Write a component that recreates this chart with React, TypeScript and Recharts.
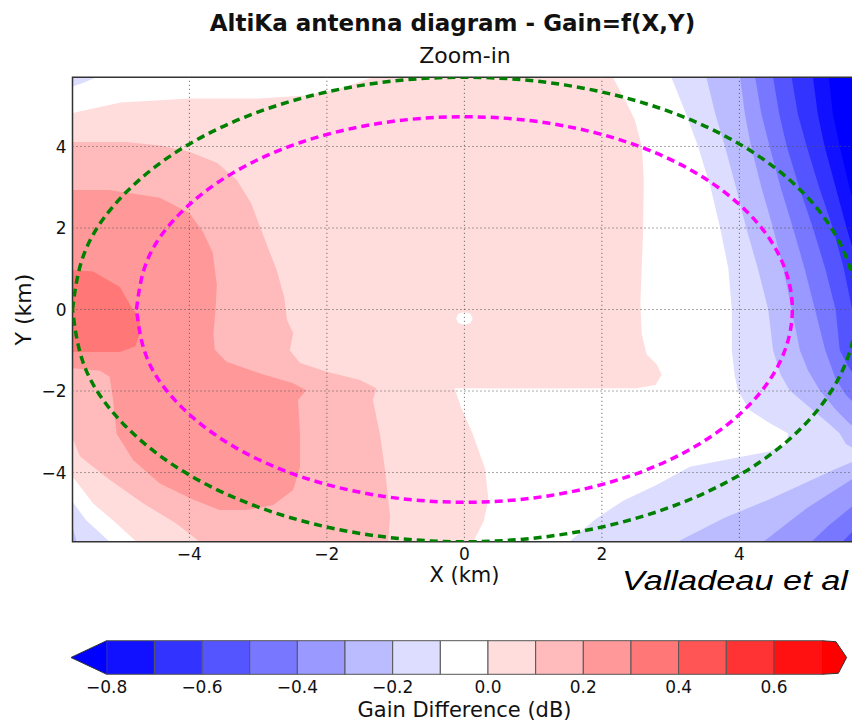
import {
  ComposedChart, Scatter, XAxis, YAxis, ReferenceLine, ReferenceArea,
} from 'recharts'

type Pair = [number, number]

// colour levels of the contour plot (dB) and the bwr colours of each band
const levels = [-0.8, -0.7, -0.6, -0.5, -0.4, -0.3, -0.2, -0.1, 0.0, 0.1, 0.2, 0.3, 0.4, 0.5, 0.6, 0.7]
const levelColors = [
  '#1111ff', '#3333ff', '#5555ff', '#7777ff', '#9999ff', '#bbbbff', '#ddddff',
  '#ffffff', '#ffdddd', '#ffbbbb', '#ff9999', '#ff7777', '#ff5555', '#ff3333', '#ff1111',
]
const underColor = '#0000ff'
const overColor = '#ff0000'
const cbarTicks = [-0.8, -0.6, -0.4, -0.2, 0, 0.2, 0.4, 0.6]
const axisTicks = [-4, -2, 0, 2, 4]

// contour regions, X/Y in km
const pink0: Pair[] = [
  [-5.7, 4.82], [-5.0, 5.08], [-4.0, 5.18], [-3.0, 5.18], [-2.3, 5.25], [-1.8, 5.42], [-1.33, 5.7],
  [2.16, 5.7], [2.36, 5.07], [2.48, 4.65], [2.58, 4.0], [2.61, 3.2], [2.6, 1.94], [2.56, 0.15],
  [2.58, -0.6], [2.65, -1.1], [2.8, -1.35], [2.87, -1.6], [2.78, -1.85], [2.5, -1.93],
  [1.0, -1.94], [-0.14, -1.93], [-0.05, -2.4], [0.12, -3.04], [0.3, -3.9], [0.35, -4.67],
  [0.28, -5.2], [0.13, -5.7], [-4.77, -5.7], [-5.06, -5.25], [-5.4, -4.76], [-5.7, -4.1],
]
const pink1: Pair[] = [
  [-5.7, 4.11], [-4.91, 4.11], [-4.4, 4.02], [-4.0, 3.87], [-3.6, 3.6], [-3.31, 3.18],
  [-3.1, 2.6], [-2.97, 2.02], [-2.83, 1.4], [-2.73, 0.97], [-2.62, 0.3], [-2.58, -0.26],
  [-2.49, -0.58], [-2.54, -1.0], [-2.39, -1.31], [-2.0, -1.53], [-1.52, -1.73], [-1.28, -1.93],
  [-1.33, -2.22], [-1.23, -3.04], [-1.16, -3.86], [-1.08, -5.08], [-1.11, -5.7],
  [-3.85, -5.7], [-4.19, -5.25], [-4.67, -4.76], [-5.16, -4.18], [-5.59, -3.61], [-5.7, -3.16],
]
const pink2: Pair[] = [
  [-5.7, 2.93], [-5.16, 2.93], [-4.43, 2.74], [-4.0, 2.37], [-3.8, 1.9], [-3.66, 1.39],
  [-3.6, 0.6], [-3.62, -0.01], [-3.65, -0.58], [-3.63, -0.99], [-3.46, -1.28], [-2.97, -1.57],
  [-2.49, -1.81], [-2.3, -1.98], [-2.42, -2.22], [-2.39, -3.04], [-2.39, -3.86], [-2.49, -4.43],
  [-2.78, -4.8], [-3.17, -4.92], [-3.56, -4.92], [-3.94, -4.67], [-4.43, -4.27], [-4.82, -3.69],
  [-5.06, -3.04], [-5.11, -2.22], [-5.16, -1.65], [-5.3, -1.5], [-5.7, -1.44],
]
const pink3: Pair[] = [
  [-5.7, 0.97], [-5.4, 0.93], [-5.01, 0.55], [-4.82, -0.01], [-4.72, -0.18], [-4.72, -0.58],
  [-4.79, -0.91], [-5.01, -1.04], [-5.7, -1.04],
]
const centreDot: Pair[] = [
  [0.12, -0.22], [0.088, -0.107], [0, -0.06], [-0.088, -0.107], [-0.12, -0.22],
  [-0.088, -0.333], [0, -0.38], [0.088, -0.333],
]
const blue1: Pair[] = [
  [3.01, 5.7], [3.2, 4.9], [3.4, 4.0], [3.58, 3.0], [3.72, 2.0], [3.84, 1.0], [3.89, 0],
  [3.89, -1.0], [3.93, -1.6], [3.98, -2.0], [4.15, -2.47], [4.45, -2.8], [4.71, -3.04],
  [4.68, -3.3], [4.45, -3.48], [4.01, -3.62], [3.28, -3.86], [2.8, -4.3], [2.31, -4.69],
  [1.9, -5.15], [1.53, -5.7], [5.7, -5.7], [5.7, 5.7],
]
const blue2Top: Pair[] = [
  [3.52, 5.7], [3.65, 4.8], [3.79, 4.0], [3.95, 3.0], [4.1, 2.0], [4.27, 1.0], [4.42, 0],
  [4.49, -1.0], [4.6, -1.6], [4.73, -1.98], [5.07, -2.47], [5.3, -2.8], [5.46, -3.04],
  [5.55, -3.3], [5.7, -3.45], [5.7, 5.7],
]
const blue2Bottom: Pair[] = [
  [5.7, -3.7], [5.35, -3.95], [4.9, -4.3], [4.45, -4.65], [3.8, -5.1], [3.1, -5.7], [5.7, -5.7],
]
const blue3Top: Pair[] = [
  [4.01, 5.7], [4.08, 4.8], [4.17, 4.0], [4.32, 3.0], [4.49, 2.0], [4.64, 1.0], [4.76, 0],
  [4.88, -1.0], [5.0, -1.5], [5.17, -1.98], [5.41, -2.47], [5.6, -2.8], [5.7, -2.9], [5.7, 5.7],
]
const blue3Bottom: Pair[] = [[5.7, -4.1], [5.0, -4.85], [4.35, -5.7], [5.7, -5.7]]
const blue4Top: Pair[] = [
  [4.23, 5.7], [4.32, 4.8], [4.44, 4.0], [4.6, 3.0], [4.78, 2.0], [4.95, 1.0], [5.1, 0],
  [5.25, -1.0], [5.4, -1.7], [5.55, -2.1], [5.7, -2.35], [5.7, 5.7],
]
const blue4Bottom: Pair[] = [[5.7, -4.75], [5.3, -5.3], [5.05, -5.7], [5.7, -5.7]]
const blue5Top: Pair[] = [
  [4.49, 5.7], [4.58, 4.8], [4.69, 4.0], [4.87, 3.0], [5.07, 2.0], [5.25, 1.0], [5.4, 0],
  [5.46, -1.0], [5.6, -1.45], [5.7, -1.65], [5.7, 5.7],
]
const blue5Bottom: Pair[] = [[5.7, -5.35], [5.5, -5.7], [5.7, -5.7]]
const blue6: Pair[] = [
  [4.76, 5.7], [4.85, 4.8], [4.98, 4.0], [5.16, 3.0], [5.36, 2.0], [5.52, 1.0], [5.64, 0],
  [5.7, -0.4], [5.7, 5.7],
]
const blue7: Pair[] = [
  [5.07, 5.7], [5.14, 4.8], [5.24, 4.0], [5.4, 3.0], [5.56, 2.0], [5.7, 1.2], [5.7, 5.7],
]
const blue8: Pair[] = [[5.3, 5.7], [5.36, 4.8], [5.46, 4.0], [5.6, 3.0], [5.7, 2.4], [5.7, 5.7]]
const cornerTopLeft: Pair[] = [[-5.7, 5.7], [-5.35, 5.7], [-5.55, 5.56], [-5.7, 5.47]]
const cornerBottomLeft1: Pair[] = [[-5.7, -4.72], [-5.5, -5.17], [-5.16, -5.7], [-5.7, -5.7]]
const cornerBottomLeft2: Pair[] = [[-5.7, -5.33], [-5.64, -5.7], [-5.7, -5.7]]

// band index into levelColors (-1 = below -0.8)
const regions: { pts: Pair[]; band: number }[] = [
  { pts: blue1, band: 6 }, { pts: cornerTopLeft, band: 6 }, { pts: cornerBottomLeft1, band: 6 },
  { pts: cornerBottomLeft2, band: 5 },
  { pts: blue2Top, band: 5 }, { pts: blue2Bottom, band: 5 },
  { pts: blue3Top, band: 4 }, { pts: blue3Bottom, band: 4 },
  { pts: blue4Top, band: 3 }, { pts: blue4Bottom, band: 3 },
  { pts: blue5Top, band: 2 }, { pts: blue5Bottom, band: 2 },
  { pts: blue6, band: 1 }, { pts: blue7, band: 0 }, { pts: blue8, band: -1 },
  { pts: pink0, band: 8 }, { pts: pink1, band: 9 }, { pts: pink2, band: 10 }, { pts: pink3, band: 11 },
  { pts: centreDot, band: 7 },
]

// footprint circles (km)
const outerCircle: Pair[] = [
  [-5.7, 0], [-5.506, 1.475], [-4.936, 2.85], [-4.031, 4.031], [-2.85, 4.936], [-1.475, 5.506],
  [0, 5.7], [1.475, 5.506], [2.85, 4.936], [4.031, 4.031], [4.936, 2.85], [5.506, 1.475],
  [5.7, 0], [5.506, -1.475], [4.936, -2.85], [4.031, -4.031], [2.85, -4.936], [1.475, -5.506],
  [0, -5.7], [-1.475, -5.506], [-2.85, -4.936], [-4.031, -4.031], [-4.936, -2.85], [-5.506, -1.475],
  [-5.7, 0],
]
const innerCircle: Pair[] = [
  [-4.77, 0], [-4.607, 1.229], [-4.131, 2.365], [-3.373, 3.345], [-2.385, 4.097], [-1.235, 4.569],
  [0, 4.73], [1.235, 4.569], [2.385, 4.097], [3.373, 3.345], [4.131, 2.365], [4.607, 1.229],
  [4.77, 0], [4.607, -1.229], [4.131, -2.365], [3.373, -3.345], [2.385, -4.097], [1.235, -4.569],
  [0, -4.73], [-1.235, -4.569], [-2.385, -4.097], [-3.373, -3.345], [-4.131, -2.365], [-4.607, -1.229],
  [-4.77, 0],
]

// extend arrows of the colour bar
const leftArrow: Pair[] = [[-0.8, 0], [-0.875, 0.5], [-0.8, 1]]
const rightArrow: Pair[] = [[0.7, 1], [0.73, 0.97], [0.7525, 0.5], [0.735, 0.03], [0.7, 0]]

const toPts = (p: Pair[]) => p.map(([x, y]) => ({ x, y }))
const bandColor = (b: number) => (b < 0 ? underColor : b >= levelColors.length ? overColor : levelColors[b])
const noShape = () => <g />
const minus = (v: number) => (v < 0 ? `\u2212${Math.abs(v)}` : String(v))
const cbarFmt = (v: number) => (v < 0 ? '\u2212' : '') + Math.abs(v).toFixed(1)

const font = 'DejaVu Sans'
const tickStyle = { fontSize: 17, fill: '#111', fontFamily: font }
const chartMargin = { top: 77.2, right: 0, bottom: 18.2, left: 0 }

// same axes for the fill layer and the overlay layer
function mapAxes(showTicks: boolean) {
  return [
    <XAxis key="x" type="number" dataKey="x" domain={[-5.7, 5.7]} ticks={axisTicks} interval={0} allowDataOverflow
      tickFormatter={minus} tick={showTicks ? tickStyle : false} tickLine={false} axisLine={false}
      tickSize={0} tickMargin={6} height={40} />,
    <YAxis key="y" type="number" dataKey="y" domain={[-5.7, 5.7]} ticks={axisTicks} interval={0} allowDataOverflow
      tickFormatter={minus} tick={showTicks ? tickStyle : false} tickLine={false} axisLine={false}
      tickSize={0} tickMargin={6} width={72.5} />,
  ]
}

export default function App() {
  return (
    <div style={{ position: 'fixed', left: 0, top: 0, width: 852, height: 721, overflow: 'hidden', background: '#fff' }}>
      {/* filled contours */}
      <div style={{ position: 'absolute', left: 0, top: 0 }}>
        <ComposedChart width={856.25} height={600} margin={chartMargin}>
          {mapAxes(true)}
          {regions.map((r, i) => (
            <Scatter key={`r${i}`} data={toPts(r.pts)} shape={noShape} isAnimationActive={false}
              line={{ fill: bandColor(r.band), stroke: 'none' }} lineJointType="linear" />
          ))}
        </ComposedChart>
      </div>

      {/* grid, footprints and frame on top of the fills */}
      <div style={{ position: 'absolute', left: 0, top: 0, pointerEvents: 'none' }}>
        <ComposedChart width={856.25} height={600} margin={chartMargin}>
          {mapAxes(false)}
          {axisTicks.map((v) => (
            <ReferenceLine key={`gx${v}`} x={v} stroke="#555" strokeDasharray="1 3" strokeWidth={1} />
          ))}
          {axisTicks.map((v) => (
            <ReferenceLine key={`gy${v}`} y={v} stroke="#555" strokeDasharray="1 3" strokeWidth={1} />
          ))}
          <Scatter data={toPts(outerCircle)} shape={noShape} isAnimationActive={false} lineJointType="natural"
            line={{ fill: 'none', stroke: '#008000', strokeWidth: 3.5, strokeDasharray: '8 5' }} />
          <Scatter data={toPts(innerCircle)} shape={noShape} isAnimationActive={false} lineJointType="natural"
            line={{ fill: 'none', stroke: '#ff00ff', strokeWidth: 3.5, strokeDasharray: '8 5' }} />
          <ReferenceArea x1={-5.7} x2={5.7} y1={-5.7} y2={5.7} fill="none" fillOpacity={0} stroke="#333" strokeWidth={1.5} />
        </ComposedChart>
      </div>

      {/* colour bar */}
      <div style={{ position: 'absolute', left: 0, top: 600 }}>
        <ComposedChart width={857.4} height={121} margin={{ top: 40.7, right: 0, bottom: 0, left: 70.95 }}>
          <XAxis type="number" dataKey="x" domain={[-0.875, 0.775]} ticks={cbarTicks} interval={0} allowDataOverflow
            tickFormatter={cbarFmt} tick={tickStyle} tickLine={false} axisLine={false} tickSize={0} tickMargin={7} height={46.7} />
          <YAxis type="number" dataKey="y" domain={[0, 1]} hide />
          {levels.slice(0, -1).map((lo, i) => (
            <ReferenceArea key={`c${i}`} x1={lo} x2={levels[i + 1]} y1={0} y2={1}
              fill={levelColors[i]} fillOpacity={1} stroke="#555" strokeWidth={1} />
          ))}
          <Scatter data={toPts(leftArrow)} shape={noShape} isAnimationActive={false} lineJointType="linear"
            line={{ fill: underColor, stroke: '#333', strokeWidth: 1 }} />
          <Scatter data={toPts(rightArrow)} shape={noShape} isAnimationActive={false} lineJointType="linear"
            line={{ fill: overColor, stroke: '#333', strokeWidth: 1 }} />
        </ComposedChart>
      </div>

      {/* titles and labels */}
      <svg width={852} height={721} style={{ position: 'absolute', left: 0, top: 0, pointerEvents: 'none' }}>
        <text x={452.5} y={30.5} textAnchor="middle" fontFamily={font} fontWeight="bold" fontSize={23} fill="#111">
          AltiKa antenna diagram - Gain=f(X,Y)
        </text>
        <text x={465} y={62.7} textAnchor="middle" fontFamily={font} fontSize={22} fill="#111">Zoom-in</text>
        <text x={464.5} y={582} textAnchor="middle" fontFamily={font} fontSize={21} fill="#111">X (km)</text>
        <text x={31} y={309.5} textAnchor="middle" fontFamily={font} fontSize={22} fill="#111"
          transform="rotate(-90 31 309.5)">Y (km)</text>
        <text x={622} y={590} fontFamily="Liberation Sans" fontStyle="italic" fontSize={27} fill="#000"
          textLength={226} lengthAdjust="spacingAndGlyphs">Valladeau et al</text>
        <text x={464.5} y={717} textAnchor="middle" fontFamily={font} fontSize={21} fill="#111">Gain Difference (dB)</text>
      </svg>
    </div>
  )
}
